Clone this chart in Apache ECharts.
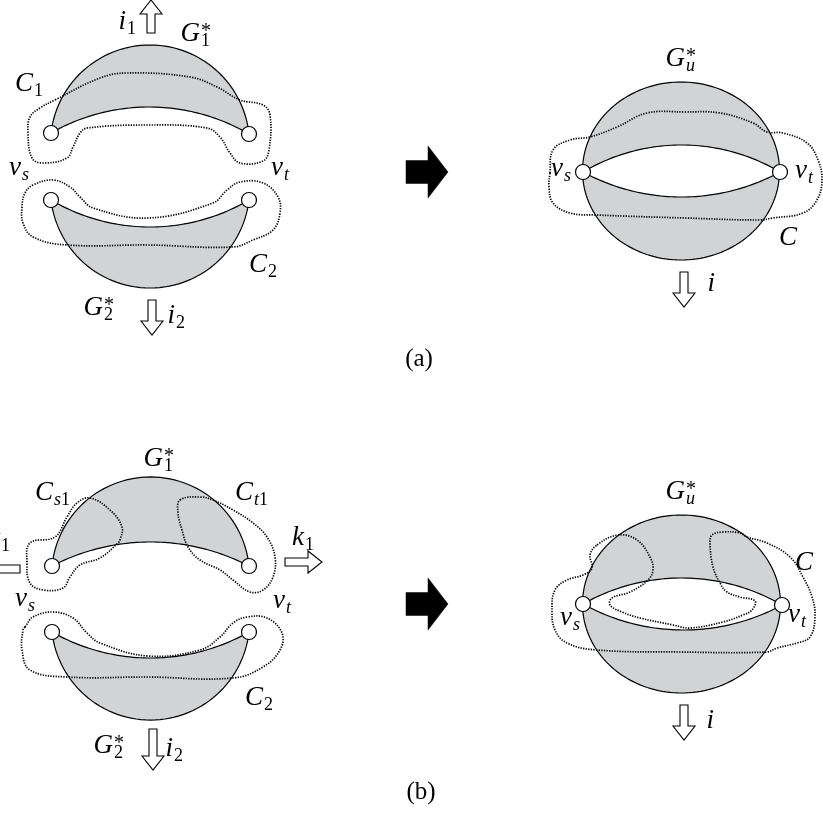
<!DOCTYPE html>
<html>
<head>
<meta charset="utf-8">
<script src="https://cdn.jsdelivr.net/npm/echarts/dist/echarts.min.js"></script>
<style>
html, body { margin: 0; padding: 0; background: #fff; }
#main { width: 823px; height: 814px; }
</style>
</head>
<body>
<div id="main"></div>
<script>
// vertices vs / vt
const vertices = [
  [51, 133], [249, 134], [51, 200], [249, 200], [583, 172], [780, 172],
  [52, 566], [249, 566], [52, 632], [249, 632], [583, 604], [782, 605]
];

// crescent regions: vs, vt, outer arc middle, inner arc middle
const crescents = [
  [51, 133, 249, 134, 148, 45, 148, 107],
  [51, 200, 249, 200, 148, 288, 148, 227],
  [52, 566, 249, 566, 148, 477, 148, 542],
  [52, 632, 249, 632, 148, 720, 148, 658]
];

// merged graph G_u*: cx, cy, rx, ry
const ovals = [[681, 171, 98.5, 89], [681.5, 604, 99, 89]];

// white face between vs and vt: vs, vt, upper middle, lower middle
const lenses = [
  [583, 172, 780, 172, 683, 145, 683, 197],
  [583, 604, 782, 605, 683, 578, 683, 630]
];

// dotted cuts
const cutC1 = [[55,100],[100,78],[127,73],[190,77],[217,87],[240,100],[263,105],[270,115],[269,150],[263,161],[240,163],[230,153],[220,137],[207,128],[148,125],[87,128],[80,133],[73,147],[67,158],[43,163],[32,158],[28,133],[30,117],[40,108]];
const cutC2 = [[25,193],[33,185],[53,180],[70,187],[80,197],[93,208],[148,218],[213,203],[227,190],[240,182],[263,183],[278,197],[280,213],[273,230],[253,240],[233,247],[148,245],[67,245],[33,237],[23,223],[22,207]];
const cutC = [[550,173],[553,150],[570,140],[590,137],[617,127],[647,113],[685,112],[720,113],[753,123],[767,132],[783,133],[807,143],[818,160],[822,180],[817,200],[803,213],[773,218],[760,220],[685,218],[597,215],[570,213],[553,203],[549,187]];
const cutCs1 = [[90,498],[110,510],[122,527],[120,540],[118,543],[100,558],[80,565],[70,577],[63,588],[43,590],[30,583],[27,563],[30,543],[55,537],[67,517],[77,503]];
const cutCt1 = [[180,500],[200,497],[213,500],[233,510],[253,523],[267,537],[275,557],[273,577],[263,590],[250,592],[233,580],[220,570],[200,560],[188,547],[182,530],[178,513]];
const cutC2b = [[25,627],[33,617],[53,612],[73,618],[87,633],[100,643],[148,656],[200,650],[220,637],[233,623],[247,617],[267,618],[282,633],[280,650],[263,667],[233,678],[148,677],[67,677],[30,670],[22,650],[23,630]];
const cutCb = [[597,545],[618,535],[637,540],[650,557],[653,570],[648,580],[630,592],[612,598],[610,605],[622,612],[640,618],[673,625],[690,628],[723,622],[743,615],[752,610],[755,601],[740,597],[727,592],[720,583],[713,567],[710,543],[712,535],[723,532],[740,533],[747,537],[767,543],[790,557],[803,577],[812,597],[815,617],[810,637],[797,643],[777,648],[767,652],[680,652],[597,650],[567,643],[555,630],[552,610],[555,590],[567,580],[583,575],[592,568],[590,555]];
const cuts = [cutC1, cutC2, cutC, cutCs1, cutCt1, cutC2b, cutCb];

// arrows: tail x, tail y, tip x, tip y
const hollowArrows = [
  [151, 33, 151, 0], [152, 300, 152, 335], [684, 272, 684, 307],
  [153, 729, 153, 770], [285, 562, 322, 562], [20, 569, -18, 569], [684, 705, 684, 740]
];
const solidArrows = [[406, 172, 448, 172], [406, 604, 448, 604]];

// labels: anchor x, baseline y, letter, subscript, superscript
const labels = [
  [126, 31, 'i', '1', ''],
  [200, 43, 'G', '1', '*'],
  [33, 93, 'C', '1', ''],
  [21, 177, 'v', 's', ''],
  [283, 177, 'v', 't', ''],
  [267, 274, 'C', '2', ''],
  [103, 317, 'G', '2', '*'],
  [175, 325, 'i', '2', ''],
  [685, 68, 'G', 'u', '*'],
  [563, 178, 'v', 's', ''],
  [807, 180, 'v', 't', ''],
  [797, 247, 'C', '', ''],
  [715, 293, 'i', '', ''],
  [163, 468, 'G', '1', '*'],
  [53, 502, 'C', 's1', ''],
  [253, 502, 'C', 't1', ''],
  [304, 547, 'k', '1', ''],
  [0, 548, 'k', '1', ''],
  [27, 608, 'v', 's', ''],
  [285, 610, 'v', 't', ''],
  [263, 707, 'C', '2', ''],
  [113, 755, 'G', '2', '*'],
  [173, 758, 'i', '2', ''],
  [685, 501, 'G', 'u', '*'],
  [572, 627, 'v', 's', ''],
  [800, 624, 'v', 't', ''],
  [813, 572, 'C', '', ''],
  [714, 730, 'i', '', '']
];
const captions = [['(a)', 419, 368], ['(b)', 421, 801]];

const GREY = '#d2d3d5';
const SERIF = '"Liberation Serif", "Times New Roman", serif';
const measureCtx = document.createElement('canvas').getContext('2d');
function textWidth(str, font) {
  measureCtx.font = font;
  return measureCtx.measureText(str).width;
}

// points of the circular arc a -> m -> b (pixel coords)
function arcPts(a, m, b) {
  const ax = a[0], ay = a[1], bx = m[0], by = m[1], cx = b[0], cy = b[1];
  const d = 2 * (ax * (by - cy) + bx * (cy - ay) + cx * (ay - by));
  const ux = ((ax * ax + ay * ay) * (by - cy) + (bx * bx + by * by) * (cy - ay) + (cx * cx + cy * cy) * (ay - by)) / d;
  const uy = ((ax * ax + ay * ay) * (cx - bx) + (bx * bx + by * by) * (ax - cx) + (cx * cx + cy * cy) * (bx - ax)) / d;
  const r = Math.hypot(ax - ux, ay - uy);
  const t0 = Math.atan2(ay - uy, ax - ux);
  const tau = Math.PI * 2;
  const norm = v => ((v % tau) + tau) % tau;
  const d1 = norm(Math.atan2(by - uy, bx - ux) - t0);
  const d2 = norm(Math.atan2(cy - uy, cx - ux) - t0);
  const sweep = d1 < d2 ? d2 : d2 - tau;
  const out = [];
  const n = 60;
  for (let i = 0; i <= n; i++) {
    const t = t0 + sweep * i / n;
    out.push([ux + r * Math.cos(t), uy + r * Math.sin(t)]);
  }
  return out;
}

function txt(x, baseline, str, font, size, align) {
  return {
    type: 'text',
    x: x,
    y: baseline - 0.34 * size,
    style: {
      text: str, font: font,
      fill: '#000', textFill: '#000',
      align: align, textAlign: align,
      verticalAlign: 'middle', textVerticalAlign: 'middle'
    }
  };
}

function arrowPoly(api, a, sw, hw, hl) {
  const t = api.coord([a[0], a[1]]);
  const p = api.coord([a[2], a[3]]);
  const len = Math.hypot(p[0] - t[0], p[1] - t[1]);
  const ux = (p[0] - t[0]) / len, uy = (p[1] - t[1]) / len;
  const nx = -uy, ny = ux;
  const bx = p[0] - ux * hl, by = p[1] - uy * hl;
  return [
    [t[0] + nx * sw / 2, t[1] + ny * sw / 2],
    [bx + nx * sw / 2, by + ny * sw / 2],
    [bx + nx * hw / 2, by + ny * hw / 2],
    [p[0], p[1]],
    [bx - nx * hw / 2, by - ny * hw / 2],
    [bx - nx * sw / 2, by - ny * sw / 2],
    [t[0] - nx * sw / 2, t[1] - ny * sw / 2]
  ];
}

const chart = echarts.init(document.getElementById('main'), null, { renderer: 'canvas' });

const option = {
  animation: false,
  backgroundColor: '#fff',
  grid: { left: 0, right: 0, top: 0, bottom: 0 },
  xAxis: { type: 'value', min: 0, max: 823, show: false },
  yAxis: { type: 'value', min: 0, max: 814, inverse: true, show: false },
  series: [
    {
      // G1*, G2* crescents
      type: 'custom', z: 1, clip: false,
      data: crescents,
      renderItem: function (params, api) {
        const c = crescents[params.dataIndex];
        const vs = api.coord([c[0], c[1]]);
        const vt = api.coord([c[2], c[3]]);
        const om = api.coord([c[4], c[5]]);
        const im = api.coord([c[6], c[7]]);
        return {
          type: 'polygon',
          shape: { points: arcPts(vs, om, vt).concat(arcPts(vt, im, vs)) },
          style: { fill: GREY, stroke: '#000', lineWidth: 1.2 }
        };
      }
    },
    {
      // Gu*
      type: 'custom', z: 1, clip: false,
      data: ovals,
      renderItem: function (params, api) {
        const o = ovals[params.dataIndex];
        const pts = [];
        for (let i = 0; i < 160; i++) {
          const t = i / 160 * Math.PI * 2;
          pts.push(api.coord([o[0] + o[2] * Math.cos(t), o[1] + o[3] * Math.sin(t)]));
        }
        return {
          type: 'polygon', shape: { points: pts },
          style: { fill: GREY, stroke: '#000', lineWidth: 1.2 }
        };
      }
    },
    {
      type: 'custom', z: 2, clip: false,
      data: lenses,
      renderItem: function (params, api) {
        const c = lenses[params.dataIndex];
        const vs = api.coord([c[0], c[1]]);
        const vt = api.coord([c[2], c[3]]);
        const um = api.coord([c[4], c[5]]);
        const lm = api.coord([c[6], c[7]]);
        return {
          type: 'polygon',
          shape: { points: arcPts(vs, um, vt).concat(arcPts(vt, lm, vs)) },
          style: { fill: '#fff', stroke: '#000', lineWidth: 1.2 }
        };
      }
    },
    {
      // dotted cuts
      type: 'custom', z: 3, clip: false,
      data: cuts.map(c => c[0]),
      renderItem: function (params, api) {
        const pts = cuts[params.dataIndex].map(p => api.coord(p));
        return {
          type: 'polygon',
          shape: { points: pts, smooth: 0.4 },
          style: { fill: 'none', stroke: '#000', lineWidth: 1.7, lineDash: [1.3, 1.3] }
        };
      }
    },
    {
      type: 'scatter', z: 4,
      data: vertices,
      symbol: 'circle', symbolSize: 15,
      itemStyle: { color: '#fff', borderColor: '#000', borderWidth: 1.2, opacity: 1 },
      emphasis: { disabled: true }
    },
    {
      type: 'custom', z: 5, clip: false,
      data: hollowArrows.map(a => [a[0], a[1]]),
      renderItem: function (params, api) {
        return {
          type: 'polygon',
          shape: { points: arrowPoly(api, hollowArrows[params.dataIndex], 8, 22, 14) },
          style: { fill: '#fff', stroke: '#000', lineWidth: 1.1 }
        };
      }
    },
    {
      type: 'custom', z: 5, clip: false,
      data: solidArrows.map(a => [a[0], a[1]]),
      renderItem: function (params, api) {
        return {
          type: 'polygon',
          shape: { points: arrowPoly(api, solidArrows[params.dataIndex], 23, 52, 20) },
          style: { fill: '#000', stroke: '#000', lineWidth: 0.5 }
        };
      }
    },
    {
      type: 'custom', z: 6, clip: false,
      data: labels.map(l => [l[0], l[1]]),
      renderItem: function (params, api) {
        const L = labels[params.dataIndex];
        const p = api.coord([L[0], L[1]]);
        const mainFont = 'italic 27px ' + SERIF;
        const kids = [txt(p[0], p[1], L[2], mainFont, 27, 'right')];
        let x = p[0] + 1;
        for (const ch of L[3]) {
          const f = (/\d/.test(ch) ? 'normal ' : 'italic ') + '18px ' + SERIF;
          kids.push(txt(x, p[1] + 4, ch, f, 18, 'left'));
          x += textWidth(ch, f);
        }
        if (L[4]) kids.push(txt(p[0] + 1, p[1] - 4, L[4], 'normal 20px ' + SERIF, 20, 'left'));
        return { type: 'group', children: kids };
      }
    },
    {
      type: 'custom', z: 6, clip: false,
      data: captions.map(c => [c[1], c[2]]),
      renderItem: function (params, api) {
        const c = captions[params.dataIndex];
        const p = api.coord([c[1], c[2]]);
        return txt(p[0], p[1], c[0], 'normal 25px ' + SERIF, 25, 'center');
      }
    }
  ]
};

chart.setOption(option);
</script>
</body>
</html>
